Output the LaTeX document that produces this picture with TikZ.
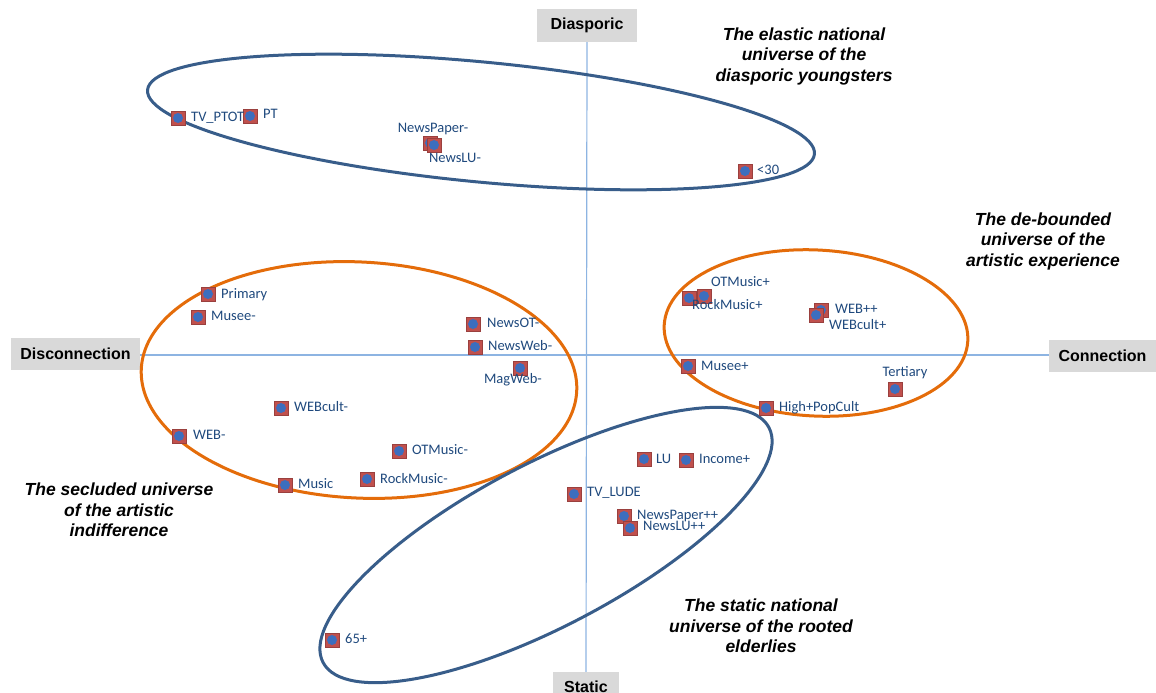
\documentclass[tikz,border=0pt]{standalone}
\usepackage{fontspec}
\usetikzlibrary{shadows}
\newfontfamily\lblfont{Carlito}
\newfontfamily\arialfont{Liberation Sans}
\definecolor{mkred}{RGB}{192,80,77}
\definecolor{mkblue}{RGB}{60,110,190}
\definecolor{lblblue}{RGB}{31,73,125}
\definecolor{axisblue}{RGB}{141,180,226}
\definecolor{ellblue}{RGB}{56,93,138}
\definecolor{ellorange}{RGB}{228,108,10}
\definecolor{boxgray}{RGB}{217,217,217}
\begin{document}
\begin{tikzpicture}[x=1pt,y=-1pt,
  mk/.style={rectangle, fill=mkred, draw=mkred!80!black, line width=0.4pt, minimum size=14pt, inner sep=0pt,
    drop shadow={shadow xshift=1pt, shadow yshift=-1.2pt, opacity=0.3},
    path picture={\fill[mkblue] (path picture bounding box.center) circle (5pt);}},
  lbl/.style={font=\lblfont\fontsize{14.5}{15}\selectfont, text=lblblue, inner sep=0pt, text height=10pt, text depth=2.8pt},
  lw/.style={lbl, anchor=west},
  axbox/.style={fill=boxgray, font=\arialfont\bfseries\fontsize{16}{18}\selectfont, inner sep=0pt},
  axline/.style={draw=axisblue, line width=1.2pt},
  ellb/.style={draw=ellblue, line width=3pt},
  ello/.style={draw=ellorange, line width=3pt},
  ttl/.style={font=\arialfont\bfseries\itshape\fontsize{17.5}{20.5}\selectfont, align=center, inner sep=0pt}
]
\useasboundingbox (0,0) rectangle (1156,693);
% axis boxes
\node[axbox, minimum width=129pt, minimum height=32pt] (disc) at (75.5,354) {Disconnection};
\node[axbox, minimum width=107pt, minimum height=32pt] (conn) at (1102.5,355.5) {Connection};
\node[axbox, minimum width=100pt, minimum height=33pt] (dias) at (587,25.5) {Diasporic};
\node[axbox, minimum width=66pt, minimum height=30pt] (stat) at (586,687) {Static};
% axes
\draw[axline] (disc.east |- 0,355) -- (conn.west |- 0,355);
\draw[axline] (dias.south) -- (stat.north);
% ellipses
\draw[ellb, rotate around={-5.5:(481,122)}] (481,122) ellipse [x radius=335, y radius=60];
\draw[ello, rotate around={-3:(359,380)}] (359,380) ellipse [x radius=218, y radius=118];
\draw[ello, rotate around={-3:(816,333)}] (816,333) ellipse [x radius=152, y radius=83];
\draw[ellb, rotate around={27.8:(546,545)}] (546,545) ellipse [x radius=252, y radius=81];
% markers
\node[mk] (mTVPTOT) at (178,118) {};
\node[mk] (mPT) at (250,116) {};
\node[mk] (mNP) at (430,143) {};
\node[mk] (mNLU) at (434,145) {};
\node[mk] (m30) at (745,171) {};
\node[mk] (mPrim) at (208,294) {};
\node[mk] (mMusm) at (198,317) {};
\node[mk] (mNOT) at (473,324) {};
\node[mk] (mNW) at (475,347) {};
\node[mk] (mMW) at (520,368) {};
\node[mk] (mWCm) at (281,408) {};
\node[mk] (mWEBm) at (179,436) {};
\node[mk] (mOTm) at (399,451) {};
\node[mk] (mRMm) at (367,479) {};
\node[mk] (mMus) at (285,485) {};
\node[mk] (mRMp) at (689,298) {};
\node[mk] (mOTp) at (704,296) {};
\node[mk] (mWEBp) at (821,310) {};
\node[mk] (mWCp) at (816,315) {};
\node[mk] (mMusp) at (688,366) {};
\node[mk] (mTert) at (895,389) {};
\node[mk] (mHPC) at (766,408) {};
\node[mk] (mLU) at (644,459) {};
\node[mk] (mInc) at (686,460) {};
\node[mk] (mTVL) at (574,494) {};
\node[mk] (mNPpp) at (624,516) {};
\node[mk] (mNLUpp) at (630,528) {};
\node[mk] (m65) at (332,640) {};
% labels
\node[lw] (lTVPTOT) at (191,118) {TV\_PTOT};
\node[lw] (lPT) at (263,115) {PT};
\node[lbl] (lNP) at (433,129) {NewsPaper-};
\node[lbl] (lNLU) at (455,159) {NewsLU-};
\node[lw] (l30) at (757,171) {<30};
\node[lw] (lPrim) at (221,295) {Primary};
\node[lw] (lMusm) at (211,317) {Musee-};
\node[lw] (lNOT) at (487,324) {NewsOT-};
\node[lw] (lNW) at (488,347) {NewsWeb-};
\node[lbl] (lMW) at (513,380) {MagWeb-};
\node[lw] (lWCm) at (294,408) {WEBcult-};
\node[lw] (lWEBm) at (193,436) {WEB-};
\node[lw] (lOTm) at (412,451) {OTMusic-};
\node[lw] (lRMm) at (380,480) {RockMusic-};
\node[lw] (lMus) at (298,485) {Music};
\node[lw] (lOTp) at (711,283) {OTMusic+};
\node[lw] (lRMp) at (692,306) {RockMusic+};
\node[lw] (lWEBp) at (835,310) {WEB++};
\node[lw] (lWCp) at (829,326) {WEBcult+};
\node[lw] (lMusp) at (701,367) {Musee+};
\node[lbl] (lTert) at (905,373) {Tertiary};
\node[lw] (lHPC) at (779,408) {High+PopCult};
\node[lw] (lLU) at (656,460) {LU};
\node[lw] (lInc) at (699,460) {Income+};
\node[lw] (lTVL) at (587,493) {TV\_LUDE};
\node[lw] (lNPpp) at (637,516) {NewsPaper++};
\node[lw] (lNLUpp) at (643,527) {NewsLU++};
\node[lw] (l65) at (345,640) {65+};
% titles
\node[ttl] (tEl) at (804,56) {The elastic national\\universe of the\\diasporic youngsters};
\node[ttl] (tDb) at (1043,241) {The de-bounded\\universe of the\\artistic experience};
\node[ttl] (tSe) at (119,510) {The secluded universe\\of the artistic\\indifference};
\node[ttl] (tSt) at (761,626) {The static national\\universe of the rooted\\elderlies};
\end{tikzpicture}
\end{document}
